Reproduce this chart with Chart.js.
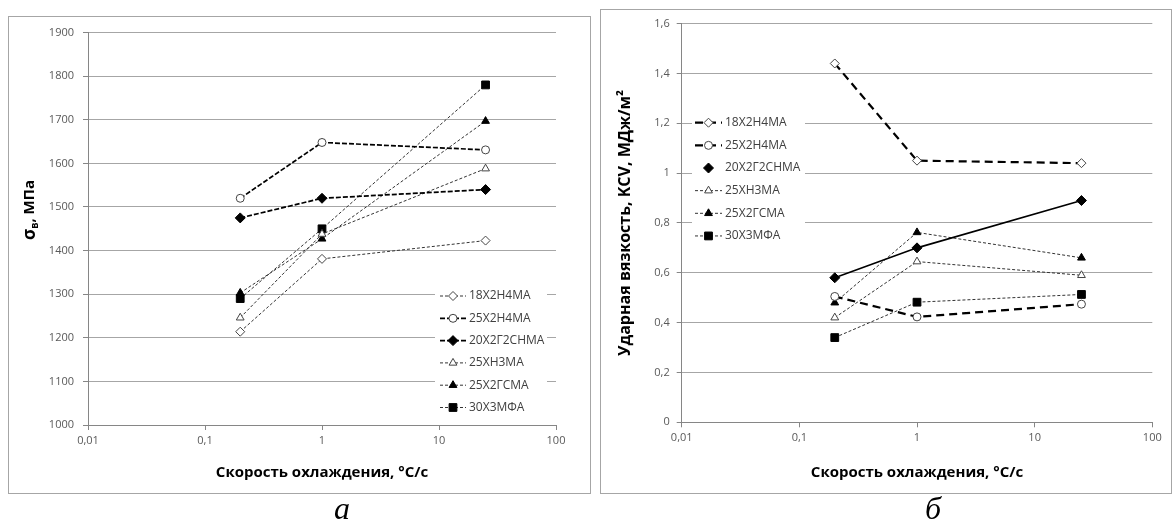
<!DOCTYPE html>
<html><head><meta charset="utf-8">
<script src="https://cdn.jsdelivr.net/npm/chart.js@4.4.1/dist/chart.umd.min.js"></script>
<style>
html,body{margin:0;padding:0;background:#fff;width:1174px;height:522px;overflow:hidden;position:relative;}
.box{position:absolute;border:1px solid #a6a6a6;}
canvas{display:block;}
.lbl{position:absolute;width:100px;text-align:center;font-family:"Liberation Serif","DejaVu Serif",serif;font-style:italic;font-size:32px;line-height:32px;color:#000;}
</style></head><body>
<div class="box" style="left:8px;top:16px;"><canvas id="c1" width="581" height="476"></canvas></div>
<div class="box" style="left:600px;top:9px;"><canvas id="c2" width="570" height="483"></canvas></div>
<div class="lbl" style="left:292px;top:492px;">а</div>
<div class="lbl" style="left:883px;top:492px;">б</div>
<script>
// ---------- DATA ----------
const coolingRates = [0.2, 1, 25];
const steelNames = ['18Х2Н4МА', '25Х2Н4МА', '20Х2Г2СНМА', '25ХН3МА', '25Х2ГСМА', '30Х3МФА'];

// (a) tensile strength, MPa
const strength_18X2H4MA = [1214, 1381, 1423];
const strength_25X2H4MA = [1520, 1648, 1631];
const strength_20X2G2SNMA = [1475, 1520, 1540];
const strength_25XH3MA = [1246, 1438, 1588];
const strength_25X2GSMA = [1303, 1427, 1697];
const strength_30X3MFA = [1290, 1450, 1780];

// (б) impact toughness KCV, MJ/m2
const impact_18X2H4MA = [1.44, 1.05, 1.04];
const impact_25X2H4MA = [0.505, 0.423, 0.474];
const impact_20X2G2SNMA = [0.58, 0.70, 0.89];
const impact_25XH3MA = [0.42, 0.645, 0.59];
const impact_25X2GSMA = [0.48, 0.762, 0.66];
const impact_30X3MFA = [0.34, 0.482, 0.513];

// ticks
const xTickValues = [0.01, 0.1, 1, 10, 100];
const xTickLabels = ['0,01', '0,1', '1', '10', '100'];
const strengthTickValues = [1000, 1100, 1200, 1300, 1400, 1500, 1600, 1700, 1800, 1900];
const strengthTickLabels = ['1000', '1100', '1200', '1300', '1400', '1500', '1600', '1700', '1800', '1900'];
const impactTickValues = [0, 0.2, 0.4, 0.6, 0.8, 1, 1.2, 1.4, 1.6];
const impactTickLabels = ['0', '0,2', '0,4', '0,6', '0,8', '1', '1,2', '1,4', '1,6'];

// texts
const xTitle = 'Скорость охлаждения, °С/с';
const yTitleA = ['σ', 'в', ', МПа'];
const yTitleB = 'Ударная вязкость, KCV, МДж/м²';

// ---------- STYLES ----------
const FONT = '"Open Sans", "Noto Sans", "DejaVu Sans", sans-serif';
const thin = {line: '#333', width: 1, dash: [3, 2]};
const stylesA = [
  Object.assign({}, thin, {point: 'rectRot', r: 4.5, fill: '#fff', stroke: '#444'}),
  {line: '#000', width: 1.7, dash: [5, 2], point: 'circle', r: 4, fill: '#fff', stroke: '#444'},
  {line: '#000', width: 1.7, dash: [5, 2], point: 'rectRot', r: 5, fill: '#000', stroke: '#000'},
  Object.assign({}, thin, {point: 'triangle', r: 4.5, fill: '#fff', stroke: '#444'}),
  Object.assign({}, thin, {point: 'triangle', r: 4.5, fill: '#000', stroke: '#000'}),
  Object.assign({}, thin, {point: 'rect', r: 5.5, fill: '#000', stroke: '#000'})
];
const stylesB = [
  {line: '#000', width: 2.2, dash: [8, 5], point: 'rectRot', r: 4.5, fill: '#fff', stroke: '#444'},
  {line: '#000', width: 2.2, dash: [8, 5], point: 'circle', r: 4, fill: '#fff', stroke: '#444'},
  {line: '#000', width: 1.6, dash: [], point: 'rectRot', r: 5, fill: '#000', stroke: '#000', legendLine: false},
  Object.assign({}, thin, {point: 'triangle', r: 4.5, fill: '#fff', stroke: '#444'}),
  Object.assign({}, thin, {point: 'triangle', r: 4.5, fill: '#000', stroke: '#000'}),
  Object.assign({}, thin, {point: 'rect', r: 5.5, fill: '#000', stroke: '#000'})
];

function makeDatasets(valuesList, styles) {
  return steelNames.map((name, i) => ({
    label: name,
    data: coolingRates.map((x, j) => ({x: x, y: valuesList[i][j]})),
    borderColor: styles[i].line,
    borderWidth: styles[i].width,
    borderDash: styles[i].dash,
    pointStyle: styles[i].point,
    pointRadius: styles[i].r,
    pointHoverRadius: styles[i].r,
    pointBackgroundColor: styles[i].fill,
    pointBorderColor: styles[i].stroke,
    pointBorderWidth: 1,
    tension: 0,
    fill: false,
    legendLine: styles[i].legendLine !== false
  }));
}

const insideLegend = {
  id: 'insideLegend',
  beforeDatasetsDraw(chart, args, o) {
    const ctx = chart.ctx;
    ctx.save();
    ctx.fillStyle = '#fff';
    ctx.fillRect(o.box.x, o.box.y, o.box.w, o.box.h);
    ctx.restore();
  },
  afterDatasetsDraw(chart, args, o) {
    const ctx = chart.ctx;
    chart.data.datasets.forEach((ds, i) => {
      const y = o.rowY + i * o.rowStep;
      ctx.save();
      if (ds.legendLine) {
        ctx.strokeStyle = ds.borderColor;
        ctx.lineWidth = ds.borderWidth;
        ctx.setLineDash(ds.borderDash || []);
        ctx.beginPath();
        ctx.moveTo(o.lineX0, y);
        ctx.lineTo(o.lineX1, y);
        ctx.stroke();
      }
      ctx.setLineDash([]);
      ctx.fillStyle = ds.pointBackgroundColor;
      ctx.strokeStyle = ds.pointBorderColor;
      ctx.lineWidth = ds.pointBorderWidth;
      Chart.helpers.drawPoint(ctx, {pointStyle: ds.pointStyle, radius: ds.pointRadius, rotation: 0, borderWidth: ds.pointBorderWidth}, o.markerX, y);
      ctx.fillStyle = '#404040';
      ctx.font = '12px ' + FONT;
      ctx.textBaseline = 'middle';
      ctx.textAlign = 'left';
      ctx.fillText(ds.label, o.textX, y);
      ctx.restore();
    });
  }
};

const sigmaTitle = {
  id: 'sigmaTitle',
  afterDraw(chart, args, o) {
    if (!o || !o.enabled) return;
    const ctx = chart.ctx;
    ctx.save();
    ctx.translate(o.x, o.y);
    ctx.rotate(-Math.PI / 2);
    const parts = [
      {t: yTitleA[0], f: 'bold 17px ' + FONT, dy: 0},
      {t: yTitleA[1], f: 'bold 10px ' + FONT, dy: 5},
      {t: yTitleA[2], f: 'bold 15px ' + FONT, dy: 0}
    ];
    let total = 0;
    parts.forEach(p => { ctx.font = p.f; p.w = ctx.measureText(p.t).width; total += p.w; });
    let x = -total / 2;
    ctx.fillStyle = '#000';
    ctx.textBaseline = 'middle';
    ctx.textAlign = 'left';
    parts.forEach(p => { ctx.font = p.f; ctx.fillText(p.t, x, p.dy); x += p.w; });
    ctx.restore();
  }
};

function xScale(h) {
  return {
    type: 'logarithmic', min: 0.01, max: 100,
    afterBuildTicks: s => { s.ticks = xTickValues.map(v => ({value: v})); },
    ticks: {autoSkip: false, maxRotation: 0, minRotation: 0, padding: 4, color: '#595959',
      font: {family: FONT, size: 11}, callback: (v, i) => xTickLabels[i]},
    grid: {drawOnChartArea: false, drawTicks: true, tickLength: 5, color: '#868686'},
    border: {display: true, color: '#868686', width: 1},
    title: {display: true, text: xTitle, color: '#000',
      font: {family: FONT, size: 15, weight: 'bold', lineHeight: 1}, padding: {top: 0, bottom: 12.5}},
    afterFit: s => { s.height = h; }
  };
}
function yScale(w, min, max, vals, labels, pad, title) {
  return {
    type: 'linear', min: min, max: max,
    afterBuildTicks: s => { s.ticks = vals.map(v => ({value: v})); },
    ticks: {padding: pad, color: '#595959', font: {family: FONT, size: 11}, callback: (v, i) => labels[i]},
    grid: {color: '#a6a6a6', drawTicks: true, tickLength: 5, tickColor: '#868686'},
    border: {display: true, color: '#868686', width: 1},
    title: title,
    afterFit: s => { s.width = w; }
  };
}

Chart.defaults.animation = false;

new Chart(document.getElementById('c1'), {
  type: 'line',
  data: {datasets: makeDatasets([strength_18X2H4MA, strength_25X2H4MA, strength_20X2G2SNMA,
    strength_25XH3MA, strength_25X2GSMA, strength_30X3MFA], stylesA)},
  options: {
    responsive: false, animation: false, events: [],
    layout: {padding: {left: 0, top: 10.5, right: 34, bottom: 0}},
    scales: {
      x: xScale(68),
      y: yScale(79, 1000, 1900, strengthTickValues, strengthTickLabels, 9, {display: false})
    },
    plugins: {
      legend: {display: false}, tooltip: {enabled: false},
      insideLegend: {box: {x: 426, y: 267, w: 112, h: 136}, rowY: 279, rowStep: 22.3,
        lineX0: 431, lineX1: 457, markerX: 444, textX: 460},
      sigmaTitle: {enabled: true, x: 21, y: 193}
    }
  },
  plugins: [insideLegend, sigmaTitle]
});

new Chart(document.getElementById('c2'), {
  type: 'line',
  data: {datasets: makeDatasets([impact_18X2H4MA, impact_25X2H4MA, impact_20X2G2SNMA,
    impact_25XH3MA, impact_25X2GSMA, impact_30X3MFA], stylesB)},
  options: {
    responsive: false, animation: false, events: [],
    layout: {padding: {left: 0, top: 10, right: 18.7, bottom: 0}},
    scales: {
      x: xScale(70.7),
      y: yScale(80.7, 0, 1.6, impactTickValues, impactTickLabels, 7,
        {display: true, text: yTitleB, color: '#000',
         font: {family: FONT, size: 16, weight: 'bold', lineHeight: 1}, padding: {top: 16, bottom: 0}})
    },
    plugins: {
      legend: {display: false}, tooltip: {enabled: false},
      insideLegend: {box: {x: 91, y: 100, w: 113, h: 138}, rowY: 112.7, rowStep: 22.65,
        lineX0: 94, lineX1: 121, markerX: 107.5, textX: 124},
      sigmaTitle: {enabled: false}
    }
  },
  plugins: [insideLegend, sigmaTitle]
});
</script>
</body></html>
